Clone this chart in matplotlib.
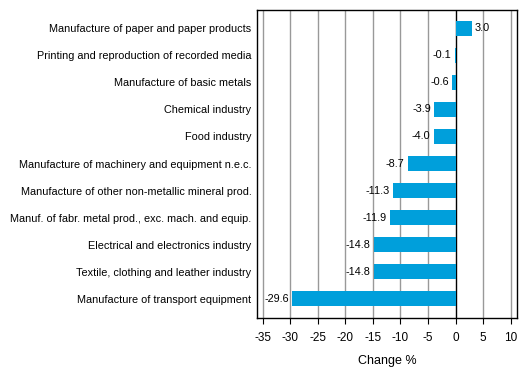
import matplotlib.pyplot as plt

plt.rcParams['font.family'] = ['Liberation Sans', 'DejaVu Sans']

industries = [
    'Manufacture of paper and paper products',
    'Printing and reproduction of recorded media',
    'Manufacture of basic metals',
    'Chemical industry',
    'Food industry',
    'Manufacture of machinery and equipment n.e.c.',
    'Manufacture of other non-metallic mineral prod.',
    'Manuf. of fabr. metal prod., exc. mach. and equip.',
    'Electrical and electronics industry',
    'Textile, clothing and leather industry',
    'Manufacture of transport equipment',
]
change = [3.0, -0.1, -0.6, -3.9, -4.0, -8.7, -11.3, -11.9, -14.8, -14.8, -29.6]
xticks = [-35, -30, -25, -20, -15, -10, -5, 0, 5, 10]

fig = plt.figure(figsize=(5.29, 3.77), dpi=100)
ax = fig.add_axes([0.486, 0.156, 0.491, 0.817])

ypos = list(range(len(industries)))
ax.barh(ypos, change, height=0.55, color='#009fdb', zorder=3)

for y, v in zip(ypos, change):
    if v >= 0:
        ax.text(v + 0.5, y, f'{v:.1f}', ha='left', va='center', fontsize=7.8, zorder=4)
    else:
        ax.text(v - 0.6, y, f'{v:.1f}', ha='right', va='center', fontsize=7.8, zorder=4)

ax.set_xlim(-36, 11.1)
ax.set_ylim(len(industries) - 1 + 0.72, -0.67)
ax.set_xticks(xticks)
ax.set_xticklabels([str(t) for t in xticks], fontsize=8.5)
ax.set_yticks(ypos)
ax.set_yticklabels(industries, fontsize=7.8)
ax.tick_params(axis='y', length=0, pad=4)
ax.tick_params(axis='x', length=4, width=0.8, pad=6)

for t in xticks:
    if t == 0:
        ax.axvline(t, color='black', linewidth=1, zorder=2)
    else:
        ax.axvline(t, color='#999999', linewidth=1, zorder=1)

for s in ax.spines.values():
    s.set_linewidth(1)

ax.set_xlabel('Change %', fontsize=9, labelpad=8)

fig.savefig('out.png', dpi=100)
